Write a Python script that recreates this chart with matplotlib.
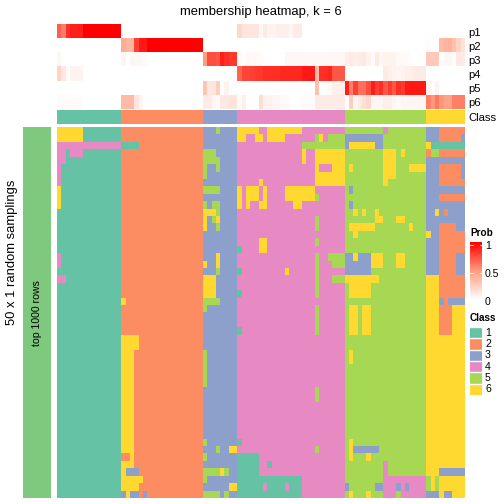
import numpy as np
import matplotlib
matplotlib.use("Agg")
import matplotlib.pyplot as plt
from matplotlib.colors import ListedColormap, LinearSegmentedColormap
from matplotlib.patches import Rectangle

plt.rcParams['font.family'] = ['Liberation Sans', 'DejaVu Sans']

W = 504.0
H = 504.0

class_sizes = [15, 19, 8, 25, 19, 9]
class_labels = ['1', '2', '3', '4', '5', '6']
class_colors = ['#66C2A5', '#FC8D62', '#8DA0CB', '#E78AC3', '#A6D854', '#FFD92F']
prob_names = ['p1', 'p2', 'p3', 'p4', 'p5', 'p6']
prob_colors = ['#FFFFFF', '#FF9E81', '#FF0000']
prob_ticks = [0, 0.5, 1]

# membership per column, six blocks: class 1,2,3,4,5,6
p1 = [.7, .6, .85, .9, .9, .9] + [1.0] * 9 + [0] * 19 + [0] * 8 \
    + [.2, .13, .13, .13, .13, .04, .1, .06, .06, .08, .08, .08, .05, .1, .1] + [0] * 10 + [0] * 19 + [0] * 9
p2 = [0] * 15 + [.42, .38, .38, .8, .92, .92] + [1.0] * 13 + [0] * 8 + [0] * 25 + [0] * 19 \
    + [.02, 0, 0, .35, .38, .4, .32, .22, .15]
p3 = [.05] + [0] * 14 + [.05, 0, .04, .04, .04, .03] + [0] * 13 \
    + [.5, .75, .75, .72, .9, .85, .82, .82] \
    + [.03, 0, .04, .03, .03, .03, 0, 0, 0, 0, 0] + [.04] * 14 \
    + [.08, .1, .08, .1, .12, .06, .02, .1, .04, .06, .06, .06, .03, .03, .03, 0, 0, 0, 0] \
    + [.28, .28, .28, 0, .04, .04, .02, .12, .1]
p4 = [.22, .12, .02, .06, .06, .06] + [0] * 9 + [0] * 19 + [0] * 8 \
    + [.68, .78, .78, .8, .82, .82, .85, .85, .85, .85, .87, .87, .87, .87, .87, .92, .92, .92,
       .35, .85, .85, .88, .72, .72, .72] \
    + [0] * 9 + [.1, .08, .06, .05, .06, .08, .08, .1, .1, .1] + [0] * 9
p5 = [0] * 15 + [0] * 19 + [.3, .12, .14, .25, 0, .06, 0, 0] \
    + [0] * 18 + [.32, 0, 0, .03, .08, .08, .08] \
    + [.9, .6, .8, .65, .65, .75, .9, .8, .85, .72, .82, .72, .85, .82, .92, .92, .92, .92, .92] \
    + [.05, .01, .06, 0, 0, 0, 0, 0, 0]
p6 = [.02] * 6 + [0] * 9 + [.35, .35, .35, .13, .05] + [0] * 14 \
    + [.1, .1, .05, .02, .12, .12, .14, .14] \
    + [.03, .08, 0, 0, 0, .18, .07, .07, .05, .05, .03, .03, 0, 0, 0, .02, .02, .02] + [.1] * 7 \
    + [0, .25, .05, .1, .17, .2, .05, .05, .05, .08, .08, .05, .03, .05, .05, .05, .05, .05, .05] \
    + [.6, .52, .62, .52, .48, .48, .6, .6, .6]

# sampled class calls that differ from the consensus: row from, row to, col from, col to, class
row_calls = [
    # class 1 block
    (0, 1, 0, 5, 6), (2, 2, 0, 14, 4), (3, 3, 0, 1, 4), (3, 3, 3, 5, 4), (4, 4, 0, 1, 4),
    (5, 7, 0, 0, 4), (8, 10, 0, 0, 6), (17, 18, 0, 0, 4), (20, 20, 0, 1, 4),
    # class 2 block
    (2, 2, 15, 18, 1), (23, 23, 15, 15, 6), (28, 29, 15, 18, 6), (30, 43, 15, 17, 6),
    (44, 44, 17, 17, 6), (45, 45, 15, 17, 6), (46, 46, 15, 15, 6), (46, 46, 16, 18, 3),
    (47, 47, 15, 19, 6), (48, 48, 15, 18, 6), (49, 49, 15, 15, 3), (49, 49, 16, 16, 6),
    (49, 49, 17, 18, 3), (49, 49, 20, 20, 3),
    # class 3 block
    (0, 0, 37, 37, 5), (3, 3, 34, 36, 5), (4, 4, 34, 37, 5), (5, 5, 34, 34, 5), (5, 5, 37, 37, 5),
    (6, 6, 34, 34, 5), (8, 8, 34, 37, 5), (10, 10, 34, 34, 5), (10, 10, 36, 37, 5),
    (11, 11, 34, 36, 6), (11, 11, 37, 37, 5), (12, 12, 34, 34, 6), (12, 12, 36, 36, 5),
    (12, 12, 37, 37, 6), (13, 13, 34, 34, 6), (13, 13, 37, 37, 5), (17, 18, 37, 37, 6),
    (18, 18, 34, 34, 6), (19, 19, 37, 37, 5), (20, 22, 34, 36, 6), (23, 23, 34, 37, 5),
    (24, 24, 34, 34, 5), (30, 34, 34, 34, 5), (42, 42, 34, 34, 5), (43, 43, 37, 37, 5),
    (43, 43, 40, 41, 6), (44, 44, 34, 34, 5), (46, 46, 34, 37, 5), (46, 46, 38, 38, 6),
    (46, 46, 39, 39, 5), (47, 47, 34, 34, 5), (48, 48, 40, 41, 6), (49, 49, 34, 37, 5),
    (49, 49, 39, 39, 5),
    # class 4 block
    (0, 0, 42, 46, 6), (0, 0, 49, 56, 6), (1, 1, 42, 43, 6), (1, 1, 46, 47, 6), (1, 1, 49, 52, 6),
    (1, 1, 60, 60, 5), (1, 1, 61, 61, 6), (1, 1, 63, 66, 5), (2, 2, 57, 66, 5), (3, 4, 57, 57, 6),
    (3, 4, 60, 66, 6), (5, 5, 60, 60, 6), (5, 5, 64, 66, 6), (6, 7, 60, 66, 6), (7, 7, 47, 47, 6),
    (8, 9, 42, 42, 6), (8, 9, 44, 46, 6), (8, 9, 48, 48, 6), (8, 9, 53, 59, 6), (9, 9, 60, 60, 5),
    (10, 10, 42, 42, 6), (10, 10, 44, 44, 6), (10, 10, 47, 48, 6), (10, 10, 55, 56, 6),
    (12, 13, 60, 60, 5), (15, 16, 47, 48, 6), (15, 15, 60, 60, 5), (16, 16, 42, 42, 1),
    (17, 17, 60, 60, 5), (17, 17, 63, 66, 5), (18, 18, 60, 60, 5), (18, 18, 64, 66, 5),
    (19, 19, 42, 42, 1), (19, 19, 53, 53, 6), (19, 22, 60, 60, 5), (20, 20, 64, 66, 5),
    (22, 22, 42, 42, 1), (24, 27, 60, 60, 5), (27, 27, 42, 42, 1), (35, 36, 60, 60, 5),
    (42, 42, 42, 42, 1), (43, 43, 60, 60, 5), (44, 46, 42, 46, 1), (45, 45, 49, 49, 1),
    (47, 49, 42, 56, 1), (48, 48, 48, 48, 4), (48, 48, 53, 53, 4),
    # class 5 block
    (0, 0, 76, 76, 4), (1, 1, 67, 75, 3), (2, 2, 67, 67, 3), (2, 2, 68, 73, 6), (2, 2, 74, 75, 3),
    (3, 3, 76, 78, 6), (3, 3, 80, 80, 6), (4, 4, 76, 78, 6), (5, 5, 68, 68, 6), (5, 5, 76, 78, 6),
    (5, 5, 82, 85, 6), (6, 6, 76, 78, 6), (7, 7, 76, 76, 6), (8, 8, 68, 68, 3), (10, 10, 68, 68, 3),
    (11, 11, 69, 69, 6), (11, 11, 71, 71, 6), (11, 11, 74, 74, 6), (12, 12, 74, 75, 6),
    (12, 12, 79, 80, 6), (13, 13, 68, 73, 6), (13, 13, 82, 82, 6), (14, 14, 69, 69, 6),
    (17, 19, 67, 72, 3), (17, 17, 69, 69, 6), (17, 18, 73, 75, 6), (17, 18, 79, 80, 6),
    (20, 20, 67, 74, 6), (21, 22, 68, 72, 6), (24, 27, 68, 69, 6), (24, 27, 71, 72, 6),
    (30, 31, 68, 68, 6), (42, 44, 68, 68, 6), (43, 43, 69, 74, 3), (44, 44, 72, 72, 6),
    (45, 46, 76, 76, 4), (47, 49, 76, 85, 4), (48, 48, 67, 67, 3), (48, 48, 74, 75, 3),
    (48, 48, 79, 79, 3), (48, 48, 81, 81, 3), (49, 49, 68, 68, 6), (49, 49, 72, 72, 6),
    (49, 49, 79, 79, 5),
    # class 6 block
    (0, 1, 86, 88, 3), (0, 0, 89, 94, 2), (1, 1, 89, 93, 2), (1, 1, 94, 94, 3), (2, 2, 87, 94, 1),
    (3, 3, 86, 86, 2), (3, 3, 87, 88, 5), (3, 3, 89, 94, 2), (4, 4, 86, 94, 3), (5, 6, 86, 88, 3),
    (5, 6, 89, 93, 2), (5, 6, 94, 94, 3), (7, 7, 86, 88, 3), (7, 7, 89, 94, 2), (8, 8, 86, 94, 3),
    (9, 9, 86, 88, 3), (9, 9, 89, 94, 2), (10, 10, 86, 94, 3), (11, 11, 86, 94, 3),
    (11, 11, 88, 88, 6), (11, 11, 90, 90, 2), (12, 12, 86, 94, 3), (13, 13, 86, 88, 3),
    (13, 13, 89, 92, 2), (13, 13, 93, 94, 3), (14, 14, 87, 88, 3), (14, 14, 89, 94, 2),
    (15, 16, 86, 88, 3), (15, 16, 89, 94, 2), (17, 19, 86, 88, 3), (17, 19, 89, 92, 2),
    (17, 19, 93, 94, 3), (20, 22, 89, 94, 2), (23, 23, 89, 89, 3), (23, 23, 90, 90, 2),
    (23, 23, 91, 94, 3), (24, 27, 89, 91, 2), (46, 46, 89, 94, 3), (47, 48, 86, 86, 5),
    (47, 48, 88, 88, 5), (49, 49, 86, 88, 3), (49, 49, 90, 91, 3),
]

n_rows = 50
consensus = np.repeat(np.arange(1, 7), class_sizes)
calls = np.tile(consensus, (n_rows, 1))
for r0, r1, c0, c1, k in row_calls:
    calls[r0:r1 + 1, c0:c1 + 1] = k

class_cmap = ListedColormap(class_colors)
prob_cmap = LinearSegmentedColormap.from_list('prob', prob_colors)


def px_axes(x0, y0, x1, y1):
    # pixel box measured from the top left corner
    ax = fig.add_axes([x0 / W, 1 - y1 / H, (x1 - x0) / W, (y1 - y0) / H])
    ax.set_axis_off()
    return ax


fig = plt.figure(figsize=(5.04, 5.04), dpi=100)

ax_prob = px_axes(57, 24, 465, 109)
ax_prob.imshow(np.array([p1, p2, p3, p4, p5, p6]), aspect='auto', cmap=prob_cmap, vmin=0, vmax=1,
               interpolation='nearest')

ax_class = px_axes(57, 110, 465, 124)
ax_class.imshow(consensus[None, :], aspect='auto', cmap=class_cmap, vmin=0.5, vmax=6.5,
                interpolation='nearest')

ax_main = px_axes(57, 127, 465, 498)
ax_main.imshow(calls, aspect='auto', cmap=class_cmap, vmin=0.5, vmax=6.5, interpolation='nearest')

ax_side = px_axes(23, 127, 51, 498)
ax_side.add_patch(Rectangle((0, 0), 1, 1, color='#7FC97F', lw=0))
fig.text(37.5 / W, 1 - 313 / H, 'top 1000 rows', rotation=90, ha='center', va='center', fontsize=7.6)


def px_text(x, y, s, **kw):
    fig.text(x / W, 1 - y / H, s, **kw)


px_text(261, 12, 'membership heatmap, k = 6', ha='center', va='center', fontsize=9.4)
px_text(12, 252.5, '50 x 1 random samplings', ha='center', va='center', rotation=90, fontsize=9.4)

for i, name in enumerate(prob_names):
    px_text(468.5, 32.5 + i * 14.1, name, ha='left', va='center', fontsize=8.1)
px_text(468.5, 118, 'Class', ha='left', va='center', fontsize=8.1)

# legends
px_text(470, 233.5, 'Prob', ha='left', va='center', fontsize=7.2, fontweight='bold')
ax_bar = px_axes(470, 242, 482, 300)
ax_bar.imshow(np.linspace(1, 0, 128)[:, None], aspect='auto', cmap=prob_cmap, vmin=0, vmax=1)
for t in prob_ticks:
    ypos = 244.5 + (1 - t) * 56
    if t > 0:
        fig.add_artist(plt.Line2D([470 / W, 472.5 / W], [1 - ypos / H] * 2, color='white', lw=0.6))
        fig.add_artist(plt.Line2D([479.5 / W, 482 / W], [1 - ypos / H] * 2, color='white', lw=0.6))
    px_text(485, ypos + 1.5, '%g' % t, ha='left', va='center', fontsize=7.6)

px_text(470, 318, 'Class', ha='left', va='center', fontsize=7.2, fontweight='bold')
ax_leg = px_axes(470, 327, 482, 395)
ax_leg.imshow(np.arange(1, 7)[:, None], aspect='auto', cmap=class_cmap, vmin=0.5, vmax=6.5,
              interpolation='nearest')
for i, lab in enumerate(class_labels):
    ax_leg.axhline(i - 0.5, color='white', lw=1)
    px_text(485, 332.7 + i * 11.3, lab, ha='left', va='center', fontsize=7.6)

fig.savefig('out.png', dpi=100)
plt.close()
